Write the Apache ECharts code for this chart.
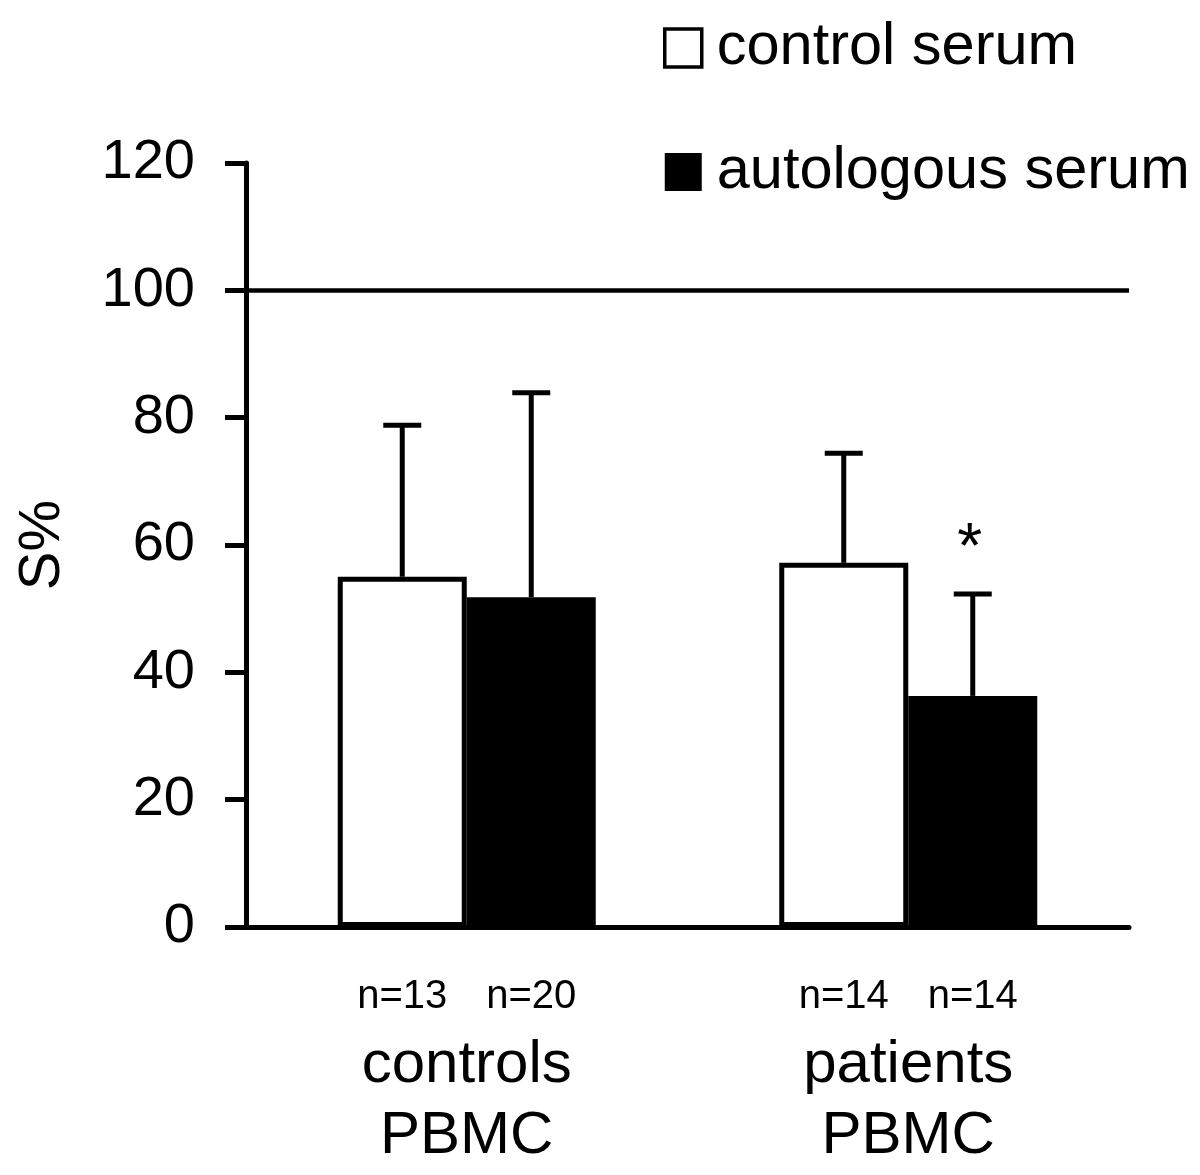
<!DOCTYPE html>
<html>
<head>
<meta charset="utf-8">
<script src="https://cdn.jsdelivr.net/npm/echarts@6/dist/echarts.min.js"></script>
<style>html,body{margin:0;padding:0;background:#fff}#c{width:1200px;height:1175px}</style>
</head>
<body>
<div id="c"></div>
<script>
var categories = ['controls\nPBMC', 'patients\nPBMC'];
var seriesNames = ['control serum', 'autologous serum'];
var controlSerum = [55.0, 57.2];
var autologousSerum = [51.8, 36.3];
var controlSerumErrTop = [78.8, 74.4];
var autologousSerumErrTop = [83.9, 52.3];
var controlSerumN = ['n=13', 'n=14'];
var autologousSerumN = ['n=20', 'n=14'];
var autologousSerumSig = ['', '*'];
var referenceValue = 100;
var yTicks = { min: 0, max: 120, interval: 20 };

var FONT = '"Liberation Sans", Arial, Helvetica, sans-serif';
var BAR_W = 129;

function errSeries(name, means, tops, offsetSign, marks) {
  var data = means.map(function (m, i) { return [i, m, tops[i], marks ? marks[i] : '']; });
  return {
    type: 'custom',
    name: name + ' err',
    data: data,
    z: 5,
    silent: true,
    encode: { x: 0, y: [1, 2] },
    renderItem: function (params, api) {
      var base = api.coord([api.value(0), api.value(1)]);
      var top = api.coord([api.value(0), api.value(2)]);
      var x = base[0] + offsetSign * BAR_W / 2;
      var children = [
        { type: 'line', shape: { x1: x, y1: base[1], x2: x, y2: top[1] }, style: { stroke: '#000', lineWidth: 5 } },
        { type: 'line', shape: { x1: x - 19, y1: top[1], x2: x + 19, y2: top[1] }, style: { stroke: '#000', lineWidth: 5 } }
      ];
      var mk = api.value(3);
      if (mk) {
        children.push({ type: 'text', x: x - 3, y: top[1] - 44, style: { text: mk, fontSize: 64, fontFamily: FONT, fill: '#000', align: 'center', verticalAlign: 'middle' } });
      }
      return { type: 'group', children: children };
    }
  };
}

function nLabel(arr) {
  return {
    show: true,
    position: ['50%', '100%'],
    offset: [0, 70],
    align: 'center',
    verticalAlign: 'middle',
    fontSize: 40,
    fontFamily: FONT,
    color: '#000',
    formatter: function (p) { return arr[p.dataIndex]; }
  };
}

var chart = echarts.init(document.getElementById('c'), null, { renderer: 'canvas' });
chart.setOption({
  backgroundColor: '#fff',
  animation: false,
  textStyle: { fontFamily: FONT },
  grid: { left: 246, right: 71, top: 163, bottom: 248, containLabel: false, outerBoundsMode: 'none' },
  legend: {
    orient: 'vertical',
    left: 658,
    top: 13,
    itemWidth: 37,
    itemHeight: 38,
    itemGap: 64,
    selectedMode: false,
    icon: 'rect',
    textStyle: { fontSize: 59.5, fontFamily: FONT, color: '#000', padding: [0, 0, 0, 10] },
    data: [
      { name: seriesNames[0], itemStyle: { color: '#fff', borderColor: '#000', borderWidth: 3.5 } },
      { name: seriesNames[1], itemStyle: { color: '#000', borderColor: '#000', borderWidth: 0 } }
    ]
  },
  xAxis: {
    type: 'category',
    data: categories,
    boundaryGap: true,
    axisLine: { show: true, lineStyle: { color: '#000', width: 5 } },
    axisTick: { show: false },
    axisLabel: { margin: 103, fontSize: 60, lineHeight: 71, color: '#000', fontFamily: FONT, interval: 0 },
    splitLine: { show: false }
  },
  yAxis: {
    type: 'value',
    min: yTicks.min,
    max: yTicks.max,
    interval: yTicks.interval,
    name: 'S%',
    nameLocation: 'middle',
    nameRotate: 90,
    nameGap: 174,
    nameTextStyle: { fontSize: 58, color: '#000', fontFamily: FONT },
    axisLine: { show: true, lineStyle: { color: '#000', width: 5 } },
    axisTick: { show: true, inside: false, length: 21, lineStyle: { color: '#000', width: 5 } },
    axisLabel: { margin: 51, fontSize: 56, color: '#000', fontFamily: FONT },
    splitLine: { show: false }
  },
  series: [
    {
      type: 'bar',
      name: seriesNames[0],
      data: controlSerum,
      barWidth: BAR_W,
      barGap: '0%',
      itemStyle: { color: '#fff', borderColor: '#000', borderWidth: 5 },
      label: nLabel(controlSerumN),
      markLine: {
        silent: true,
        symbol: ['none', 'none'],
        label: { show: false },
        lineStyle: { color: '#000', width: 4.5, type: 'solid' },
        data: [{ yAxis: referenceValue }]
      },
      z: 3
    },
    {
      type: 'bar',
      name: seriesNames[1],
      data: autologousSerum,
      barWidth: BAR_W,
      barGap: '0%',
      itemStyle: { color: '#000', borderColor: '#000', borderWidth: 0 },
      label: nLabel(autologousSerumN),
      z: 3
    },
    errSeries(seriesNames[0], controlSerum, controlSerumErrTop, -1, null),
    errSeries(seriesNames[1], autologousSerum, autologousSerumErrTop, 1, autologousSerumSig)
  ]
});
</script>
</body>
</html>
